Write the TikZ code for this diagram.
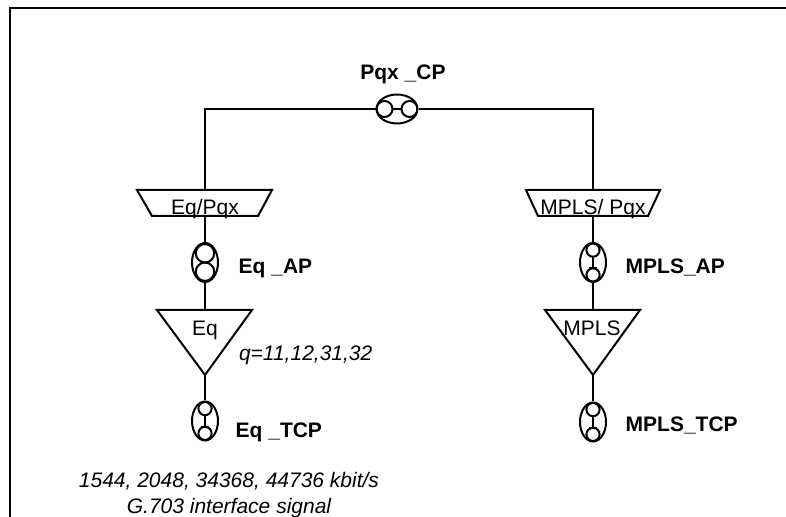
\documentclass[tikz,border=0pt]{standalone}
\usepackage{fontspec}
\setmainfont{Liberation Sans}
\usetikzlibrary{shapes.geometric}

\tikzset{
    cph/.style={draw, ellipse, inner sep=0pt, minimum width=20.5pt, minimum height=14.5pt,
        path picture={
            \draw[line width=1pt] ([xshift=-6.25pt]path picture bounding box.center) circle (4pt);
            \draw[line width=1pt] ([xshift=6.25pt]path picture bounding box.center) circle (4pt);
            \draw[line width=1pt] ([xshift=-2.25pt]path picture bounding box.center) -- ([xshift=2.25pt]path picture bounding box.center);
        }},
    cpa/.style={draw, ellipse, inner sep=0pt, minimum width=13pt, minimum height=19.5pt,
        path picture={
            \draw[line width=1pt] ([yshift=4.6pt]path picture bounding box.center) circle (4.6pt);
            \draw[line width=1pt] ([yshift=-4.6pt]path picture bounding box.center) circle (4.6pt);
        }},
    cpt/.style={draw, ellipse, inner sep=0pt, minimum width=13pt, minimum height=19.5pt,
        path picture={
            \draw[line width=1pt] ([yshift=6.2pt]path picture bounding box.center) circle (3.3pt);
            \draw[line width=1pt] ([yshift=-6.2pt]path picture bounding box.center) circle (3.3pt);
            \draw[line width=1pt] ([yshift=2.9pt]path picture bounding box.center) -- ([yshift=-2.9pt]path picture bounding box.center);
            \draw[line width=1pt] ([xshift=-2pt,yshift=-2.9pt]path picture bounding box.center) -- ([xshift=2pt,yshift=-2.9pt]path picture bounding box.center);
        }},
    lbl/.style={font=\fontsize{10.5}{13}\selectfont\bfseries},
    txt/.style={font=\fontsize{10.5}{13}\selectfont, inner sep=0pt}
}

\begin{document}
\begin{tikzpicture}[x=0.5pt, y=-0.5pt, line width=1pt]
    \useasboundingbox (0,0) rectangle (786,517);
    \draw (10,517) -- (10,8) -- (786,8);

    % connection point between the two adaptations
    \node[cph] (pqxcp) at (397,109) {};
    \node[lbl] (pqxcplab) at (403,74) {Pqx \_CP};

    % Eq column
    \draw (137,190) -- (272,190) -- (258,216) -- (152,216) -- cycle;
    \coordinate (eqpqxtop) at (205,190);
    \coordinate (eqpqxbot) at (205,216);
    \node[txt, anchor=base] (eqpqxtxt) at (205,215) {Eq/Pqx};
    \node[cpa] (eqap) at (205,262.5) {};
    \node[lbl, anchor=west] (eqaplab) at (231,268) {Eq \_AP};
    \draw (157,310) -- (252,310) -- (205,375) -- cycle;
    \coordinate (eqtritop) at (205,310);
    \coordinate (eqtribot) at (205,375);
    \node[txt, anchor=base] (eqtxt) at (205,336) {Eq};
    \node[txt, anchor=west, font=\fontsize{10.5}{13}\selectfont\itshape] (eqq) at (238,355) {q=11,12,31,32};
    \node[cpt] (eqtcp) at (205,421) {};
    \node[lbl, anchor=west] (eqtcplab) at (228,432) {Eq \_TCP};
    \node[txt, align=center, font=\fontsize{10.5}{13}\selectfont\itshape] (eqsig) at (229,495)
        {1544, 2048, 34368, 44736 kbit/s\\G.703 interface signal};

    % MPLS column
    \draw (526,190) -- (660,190) -- (648,216) -- (538,216) -- cycle;
    \coordinate (mplspqxtop) at (593,190);
    \coordinate (mplspqxbot) at (593,216);
    \node[txt, anchor=base] (mplspqxtxt) at (593,215) {MPLS/ Pqx};
    \node[cpt] (mplsap) at (593,262.5) {};
    \node[lbl, anchor=west] (mplsaplab) at (618,267) {MPLS\_AP};
    \draw (545,310) -- (640,310) -- (593,375) -- cycle;
    \coordinate (mplstritop) at (593,310);
    \coordinate (mplstribot) at (593,375);
    \node[txt, anchor=base] (mplstxt) at (592,336) {MPLS};
    \node[cpt] (mplstcp) at (593,422) {};
    \node[lbl, anchor=west] (mplstcplab) at (618,425) {MPLS\_TCP};

    \draw (pqxcp) -| (eqpqxtop);
    \draw (pqxcp) -| (mplspqxtop);
    \draw (eqpqxbot) -- (eqap);
    \draw (eqap) -- (eqtritop);
    \draw (eqtribot) -- (eqtcp);
    \draw (mplspqxbot) -- (mplsap);
    \draw (mplsap) -- (mplstritop);
    \draw (mplstribot) -- (mplstcp);
\end{tikzpicture}
\end{document}
